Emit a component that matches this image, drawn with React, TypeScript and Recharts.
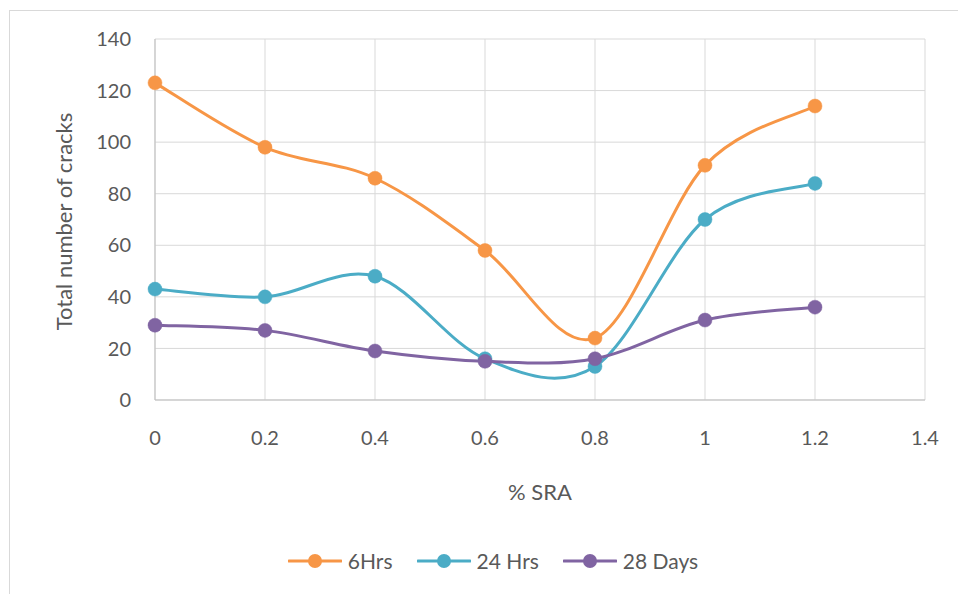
import React from 'react';
import { LineChart, Line, XAxis, YAxis, CartesianGrid, Legend } from 'recharts';

const sra = [0, 0.2, 0.4, 0.6, 0.8, 1.0, 1.2];
const hrs6 = [123, 98, 86, 58, 24, 91, 114];
const hrs24 = [43, 40, 48, 16, 13, 70, 84];
const days28 = [29, 27, 19, 15, 16, 31, 36];

const xTicks = [0, 0.2, 0.4, 0.6, 0.8, 1.0, 1.2, 1.4];
const yTicks = [0, 20, 40, 60, 80, 100, 120, 140];

const SERIES = [
  { key: 'hrs6', name: '6Hrs', color: '#F79646' },
  { key: 'hrs24', name: '24 Hrs', color: '#4BACC6' },
  { key: 'days28', name: '28 Days', color: '#8064A2' },
];

const data = sra.map((x, i) => ({
  sra: x,
  hrs6: hrs6[i],
  hrs24: hrs24[i],
  days28: days28[i],
}));

const FONT = 'Lato, "Open Sans", sans-serif';
const TEXT = '#595959';

// Excel-like smoothed line (uniform Catmull-Rom as cubic beziers)
function excelSmooth(context: any) {
  let pts: number[][] = [];
  return {
    areaStart() {},
    areaEnd() {},
    lineStart() {
      pts = [];
    },
    point(x: number, y: number) {
      pts.push([+x, +y]);
    },
    lineEnd() {
      const n = pts.length;
      if (!n) return;
      context.moveTo(pts[0][0], pts[0][1]);
      for (let i = 0; i < n - 1; i++) {
        const p0 = pts[Math.max(i - 1, 0)];
        const p1 = pts[i];
        const p2 = pts[i + 1];
        const p3 = pts[Math.min(i + 2, n - 1)];
        context.bezierCurveTo(
          p1[0] + (p2[0] - p0[0]) / 6,
          p1[1] + (p2[1] - p0[1]) / 6,
          p2[0] - (p3[0] - p1[0]) / 6,
          p2[1] - (p3[1] - p1[1]) / 6,
          p2[0],
          p2[1]
        );
      }
    },
  };
}

function LegendContent() {
  return (
    <div
      style={{
        display: 'flex',
        justifyContent: 'center',
        gap: 24,
        fontFamily: FONT,
        fontSize: 21,
        color: TEXT,
        lineHeight: '24px',
      }}
    >
      {SERIES.map((s) => (
        <div key={s.key} style={{ display: 'flex', alignItems: 'center', gap: 6 }}>
          <svg width={54} height={16}>
            <line x1={1} y1={8} x2={53} y2={8} stroke={s.color} strokeWidth={3} strokeLinecap="round" />
            <circle cx={27} cy={8} r={7} fill={s.color} />
          </svg>
          <span>{s.name}</span>
        </div>
      ))}
    </div>
  );
}

export default function App() {
  return (
    <div
      style={{
        position: 'fixed',
        left: 0,
        top: 0,
        width: 958,
        height: 594,
        overflow: 'hidden',
        background: '#fff',
      }}
    >
      <div
        style={{
          position: 'absolute',
          left: 9,
          top: 10,
          width: 980,
          height: 600,
          border: '1px solid #d9d9d9',
        }}
      />
      <div style={{ position: 'absolute', left: 0, top: 0 }}>
        <LineChart
          width={958}
          height={594}
          data={data}
          margin={{ top: 39, right: 33, left: 0, bottom: 70 }}
        >
          <CartesianGrid stroke="#d9d9d9" strokeWidth={1} />
          <XAxis
            dataKey="sra"
            type="number"
            domain={[0, 1.4]}
            ticks={xTicks}
            height={100}
            tickSize={0}
            tickMargin={31}
            axisLine={{ stroke: '#bfbfbf' }}
            tick={{ fill: TEXT, fontSize: 20, fontFamily: FONT }}
            label={{
              value: '% SRA',
              position: 'insideBottom',
              offset: 0,
              fill: TEXT,
              fontSize: 22,
              fontFamily: FONT,
            }}
          />
          <YAxis
            type="number"
            domain={[0, 140]}
            ticks={yTicks}
            width={155}
            tickSize={0}
            tickMargin={24}
            axisLine={{ stroke: '#bfbfbf' }}
            tick={{ fill: TEXT, fontSize: 20, fontFamily: FONT }}
            label={{
              content: ({ viewBox }: any) => (
                <text
                  x={viewBox.x + 63}
                  y={viewBox.y + viewBox.height / 2 + 2}
                  transform={`rotate(-90 ${viewBox.x + 63} ${viewBox.y + viewBox.height / 2 + 2})`}
                  textAnchor="middle"
                  dominantBaseline="central"
                  fill={TEXT}
                  fontSize={22}
                  fontFamily={FONT}
                >
                  Total number of cracks
                </text>
              ),
            }}
          />
          {SERIES.map((s) => (
            <Line
              key={s.key}
              dataKey={s.key}
              name={s.name}
              type={excelSmooth as any}
              stroke={s.color}
              strokeWidth={3}
              dot={{ r: 7, fill: s.color, stroke: s.color, strokeWidth: 0.5 }}
              isAnimationActive={false}
            />
          ))}
          <Legend
            content={<LegendContent />}
            wrapperStyle={{ position: 'absolute', left: 0, top: 549, width: 986 }}
          />
        </LineChart>
      </div>
    </div>
  );
}
